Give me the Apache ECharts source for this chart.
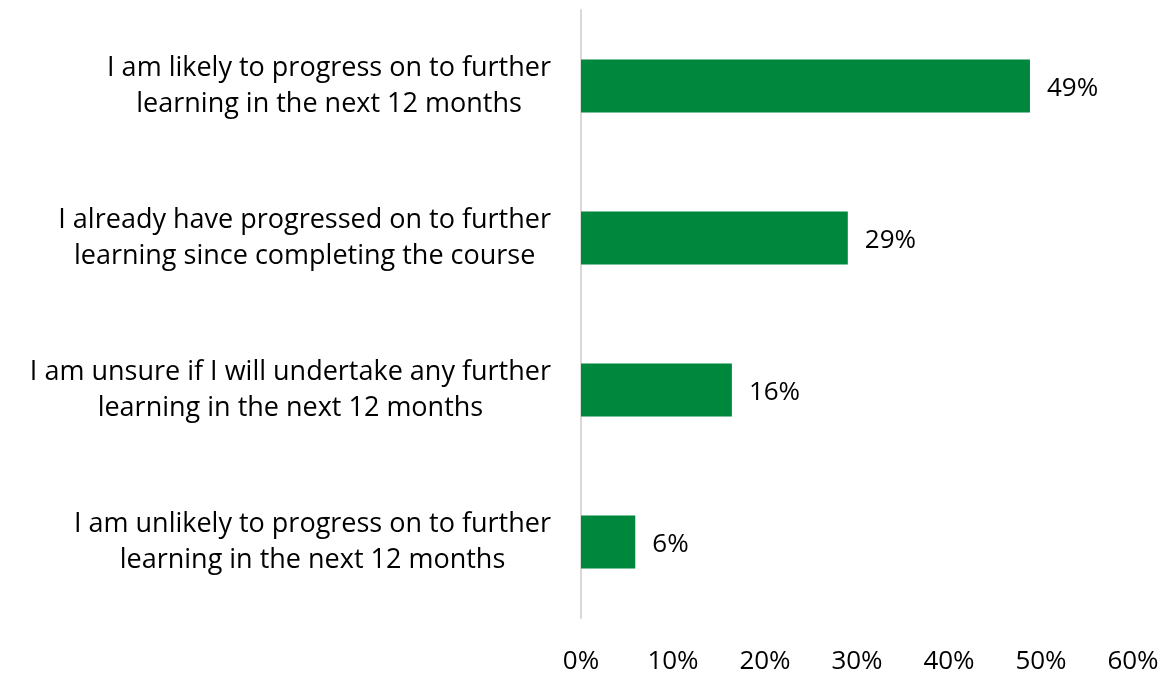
<!DOCTYPE html>
<html>
<head>
<meta charset="utf-8">
<script src="https://cdn.jsdelivr.net/npm/echarts@6/dist/echarts.min.js"></script>
<style>
  html, body { margin: 0; padding: 0; background: #fff; }
  #chart { width: 1170px; height: 675px; }
</style>
</head>
<body>
<div id="chart"></div>
<script>
// categories, top to bottom
const categories = [
  'I am likely to progress on to further\nlearning in the next 12 months',
  'I already have progressed on to further\nlearning since completing the course',
  'I am unsure if I will undertake any further\nlearning in the next 12 months',
  'I am unlikely to progress on to further\nlearning in the next 12 months',
];
// bar lengths as measured, labels show them rounded
const values = [48.8, 29, 16.4, 5.9];
const tickLabels = ['0%', '10%', '20%', '30%', '40%', '50%', '60%'];

const FONT = 'Open Sans';
const SIZE = 27;
const chart = echarts.init(document.getElementById('chart'));

const option = {
  animation: false,
  grid: { left: 581, right: 37, top: 10, bottom: 57 },
  xAxis: {
    type: 'value',
    min: 0,
    max: 60,
    interval: 10,
    splitLine: { show: false },
    axisLine: { show: false },
    axisTick: { show: false },
    axisLabel: {
      margin: 31,
      color: '#000',
      fontFamily: FONT,
      fontSize: 26,
      formatter: (v) => tickLabels[v / 10],
    },
  },
  yAxis: {
    type: 'category',
    inverse: true,
    data: categories,
    axisLine: { show: true, lineStyle: { color: '#d9d9d9', width: 2 } },
    axisTick: { show: false },
    axisLabel: {
      margin: 30,
      align: 'right',
      color: '#000',
      fontFamily: FONT,
      fontSize: SIZE,
      lineHeight: 36,
      // centre each line inside the right-aligned label block
      formatter: (v) => v.split('\n').map((s) => '{c|' + s + '}').join('\n'),
      rich: {
        c: { align: 'center', fontFamily: FONT, fontSize: SIZE, lineHeight: 36, color: '#000' },
      },
    },
  },
  series: [{
    type: 'bar',
    data: values,
    barWidth: '35%',
    itemStyle: { color: '#00873e' },
    label: {
      show: true,
      position: 'right',
      distance: 17,
      offset: [0, 3],
      color: '#000',
      fontFamily: FONT,
      fontSize: 26,
      formatter: (p) => Math.round(p.value) + '%',
    },
  }],
};

chart.setOption(option);
</script>
</body>
</html>
